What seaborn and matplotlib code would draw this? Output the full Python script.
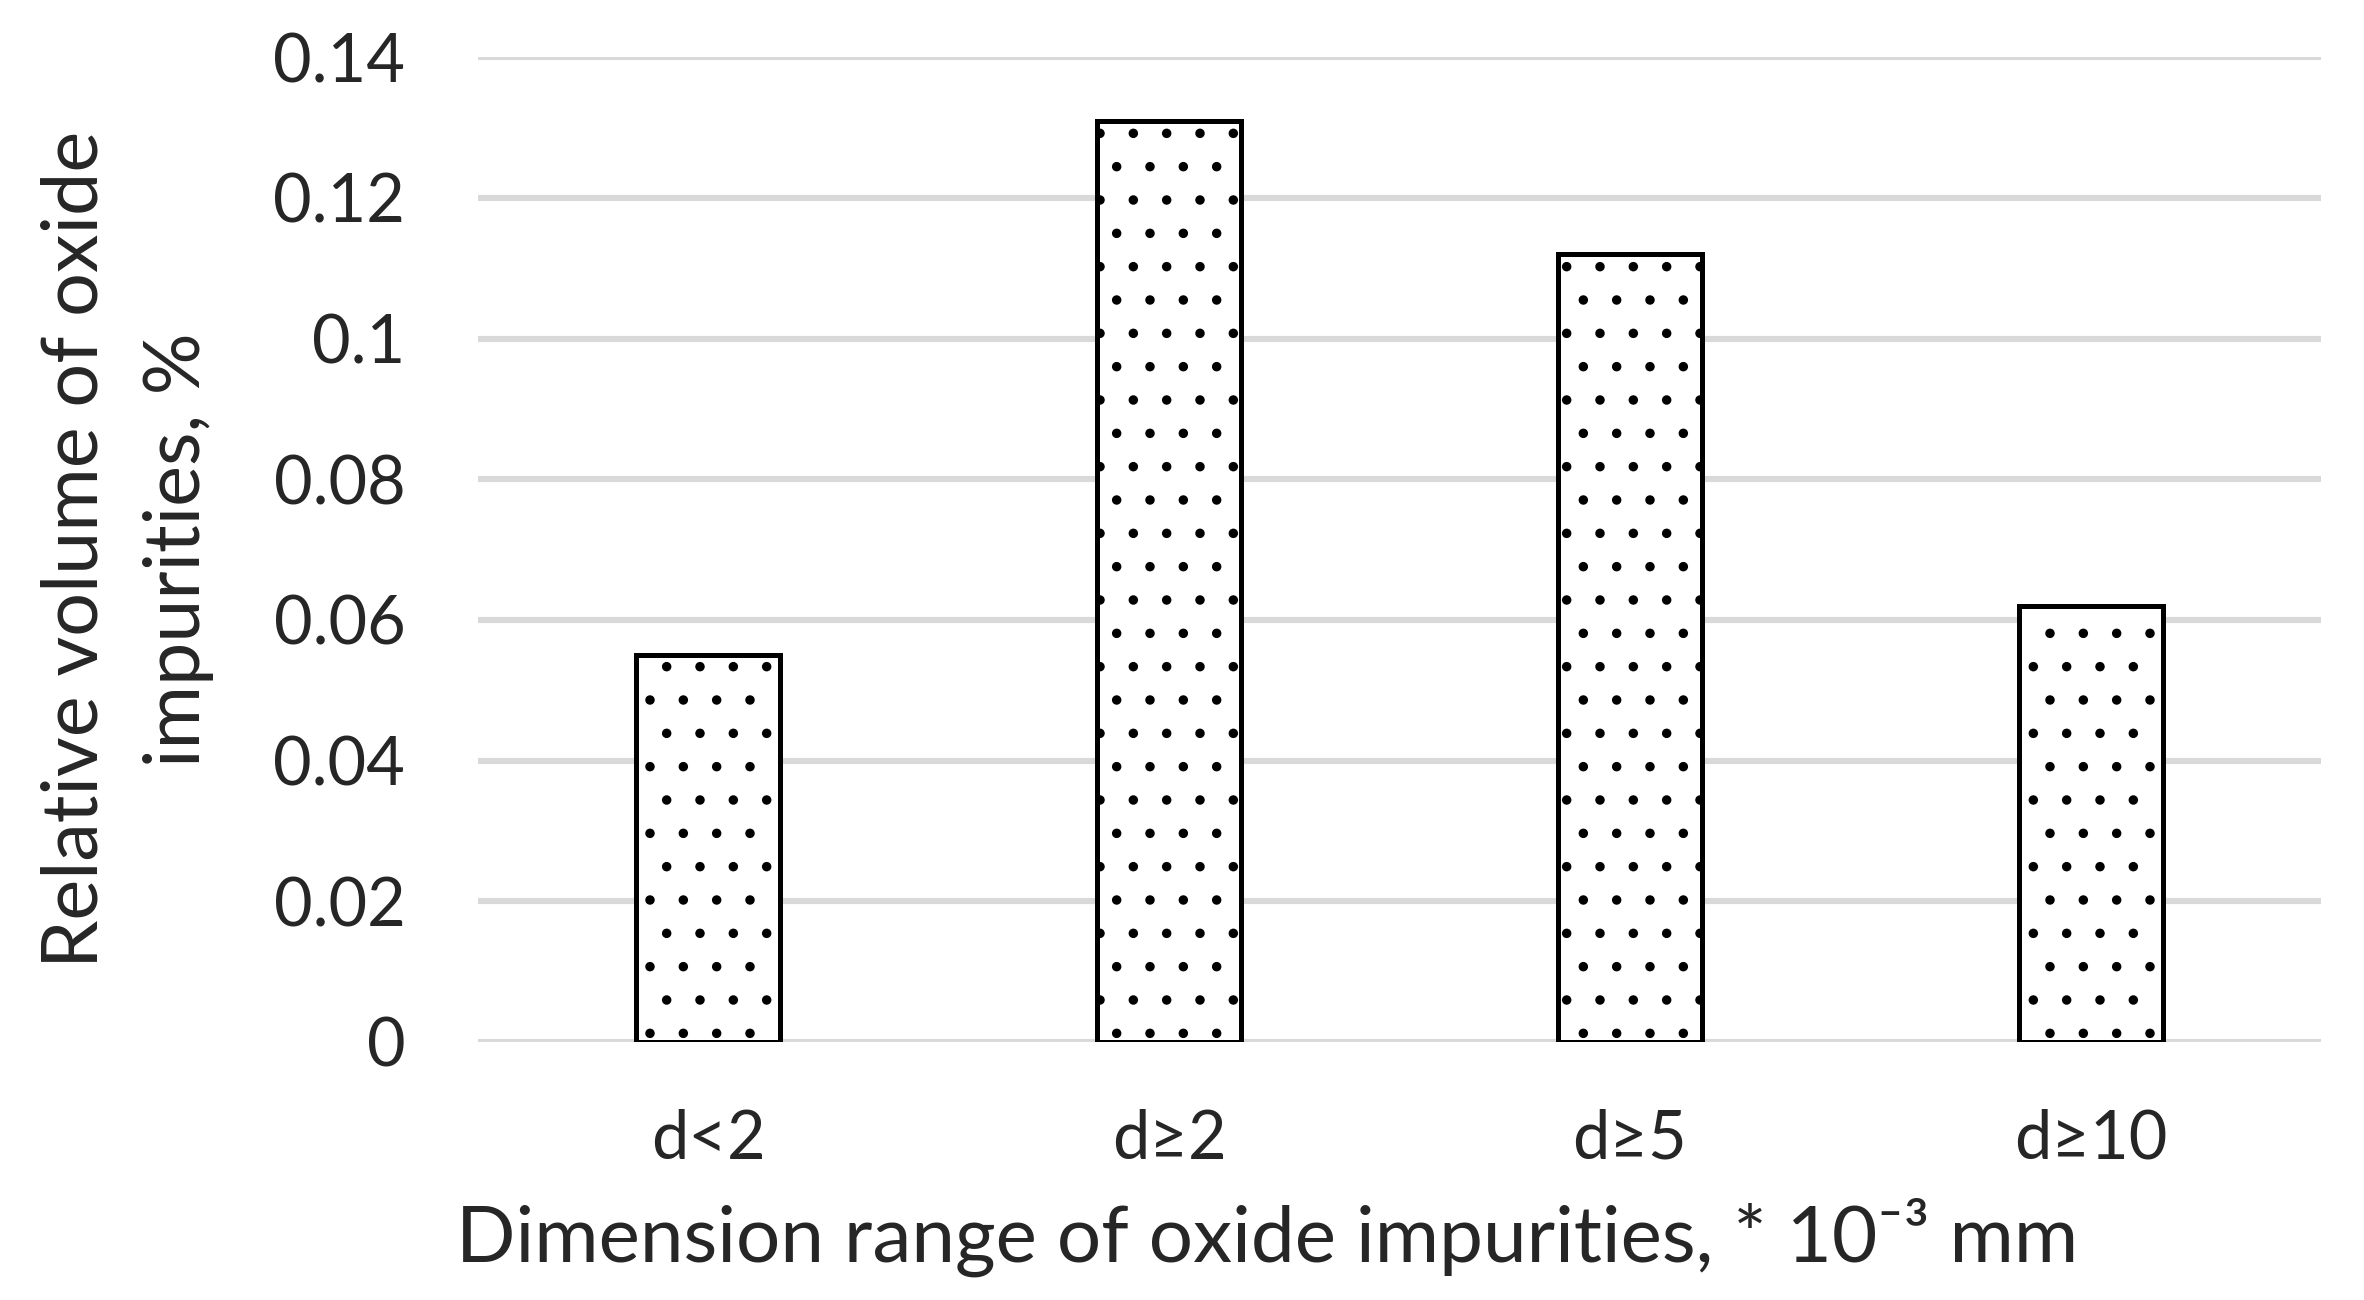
import matplotlib
matplotlib.use("Agg")
import matplotlib.pyplot as plt
import seaborn as sns
import pandas as pd

# data
categories = ["d<2", "d≥2", "d≥5", "d≥10"]
volumes = [0.055, 0.131, 0.112, 0.062]
yticks = [0, 0.02, 0.04, 0.06, 0.08, 0.1, 0.12, 0.14]
ytick_labels = ["0", "0.02", "0.04", "0.06", "0.08", "0.1", "0.12", "0.14"]

df = pd.DataFrame({"range": categories, "volume": volumes})

sns.set_style("white")
plt.rcParams['font.family'] = ['Lato', 'DejaVu Sans']
plt.rcParams['hatch.linewidth'] = 1.0

fig = plt.figure(figsize=(11.82, 6.5), dpi=200)
ax = fig.add_axes([0.202, 0.1985, 0.780, 0.7575])

sns.barplot(x="range", y="volume", data=df, ax=ax, color="white",
            edgecolor="black", linewidth=1.8, width=0.314, hatch=".")

ax.set_ylim(0, 0.14)
ax.set_xlim(-0.5, 3.5)
ax.set_yticks(yticks)
ax.set_yticklabels(ytick_labels)
ax.yaxis.grid(True, color="#d9d9d9", linewidth=2.2)
ax.xaxis.grid(False)
ax.set_axisbelow(True)
for s in ax.spines.values():
    s.set_visible(False)

ax.tick_params(axis="both", length=0, labelsize=24)
ax.tick_params(axis="y", pad=26)
ax.tick_params(axis="x", pad=24)

ax.set_xlabel("Dimension range of oxide impurities, * 10⁻³ mm", fontsize=28.2)
ax.xaxis.set_label_coords(0.428, -0.158)
ax.set_ylabel("Relative volume of oxide\nimpurities, %", fontsize=27.8,
              linespacing=1.55)
ax.yaxis.set_label_coords(-0.143, 0.5)

fig.savefig("out.png", dpi=200)
plt.close(fig)
